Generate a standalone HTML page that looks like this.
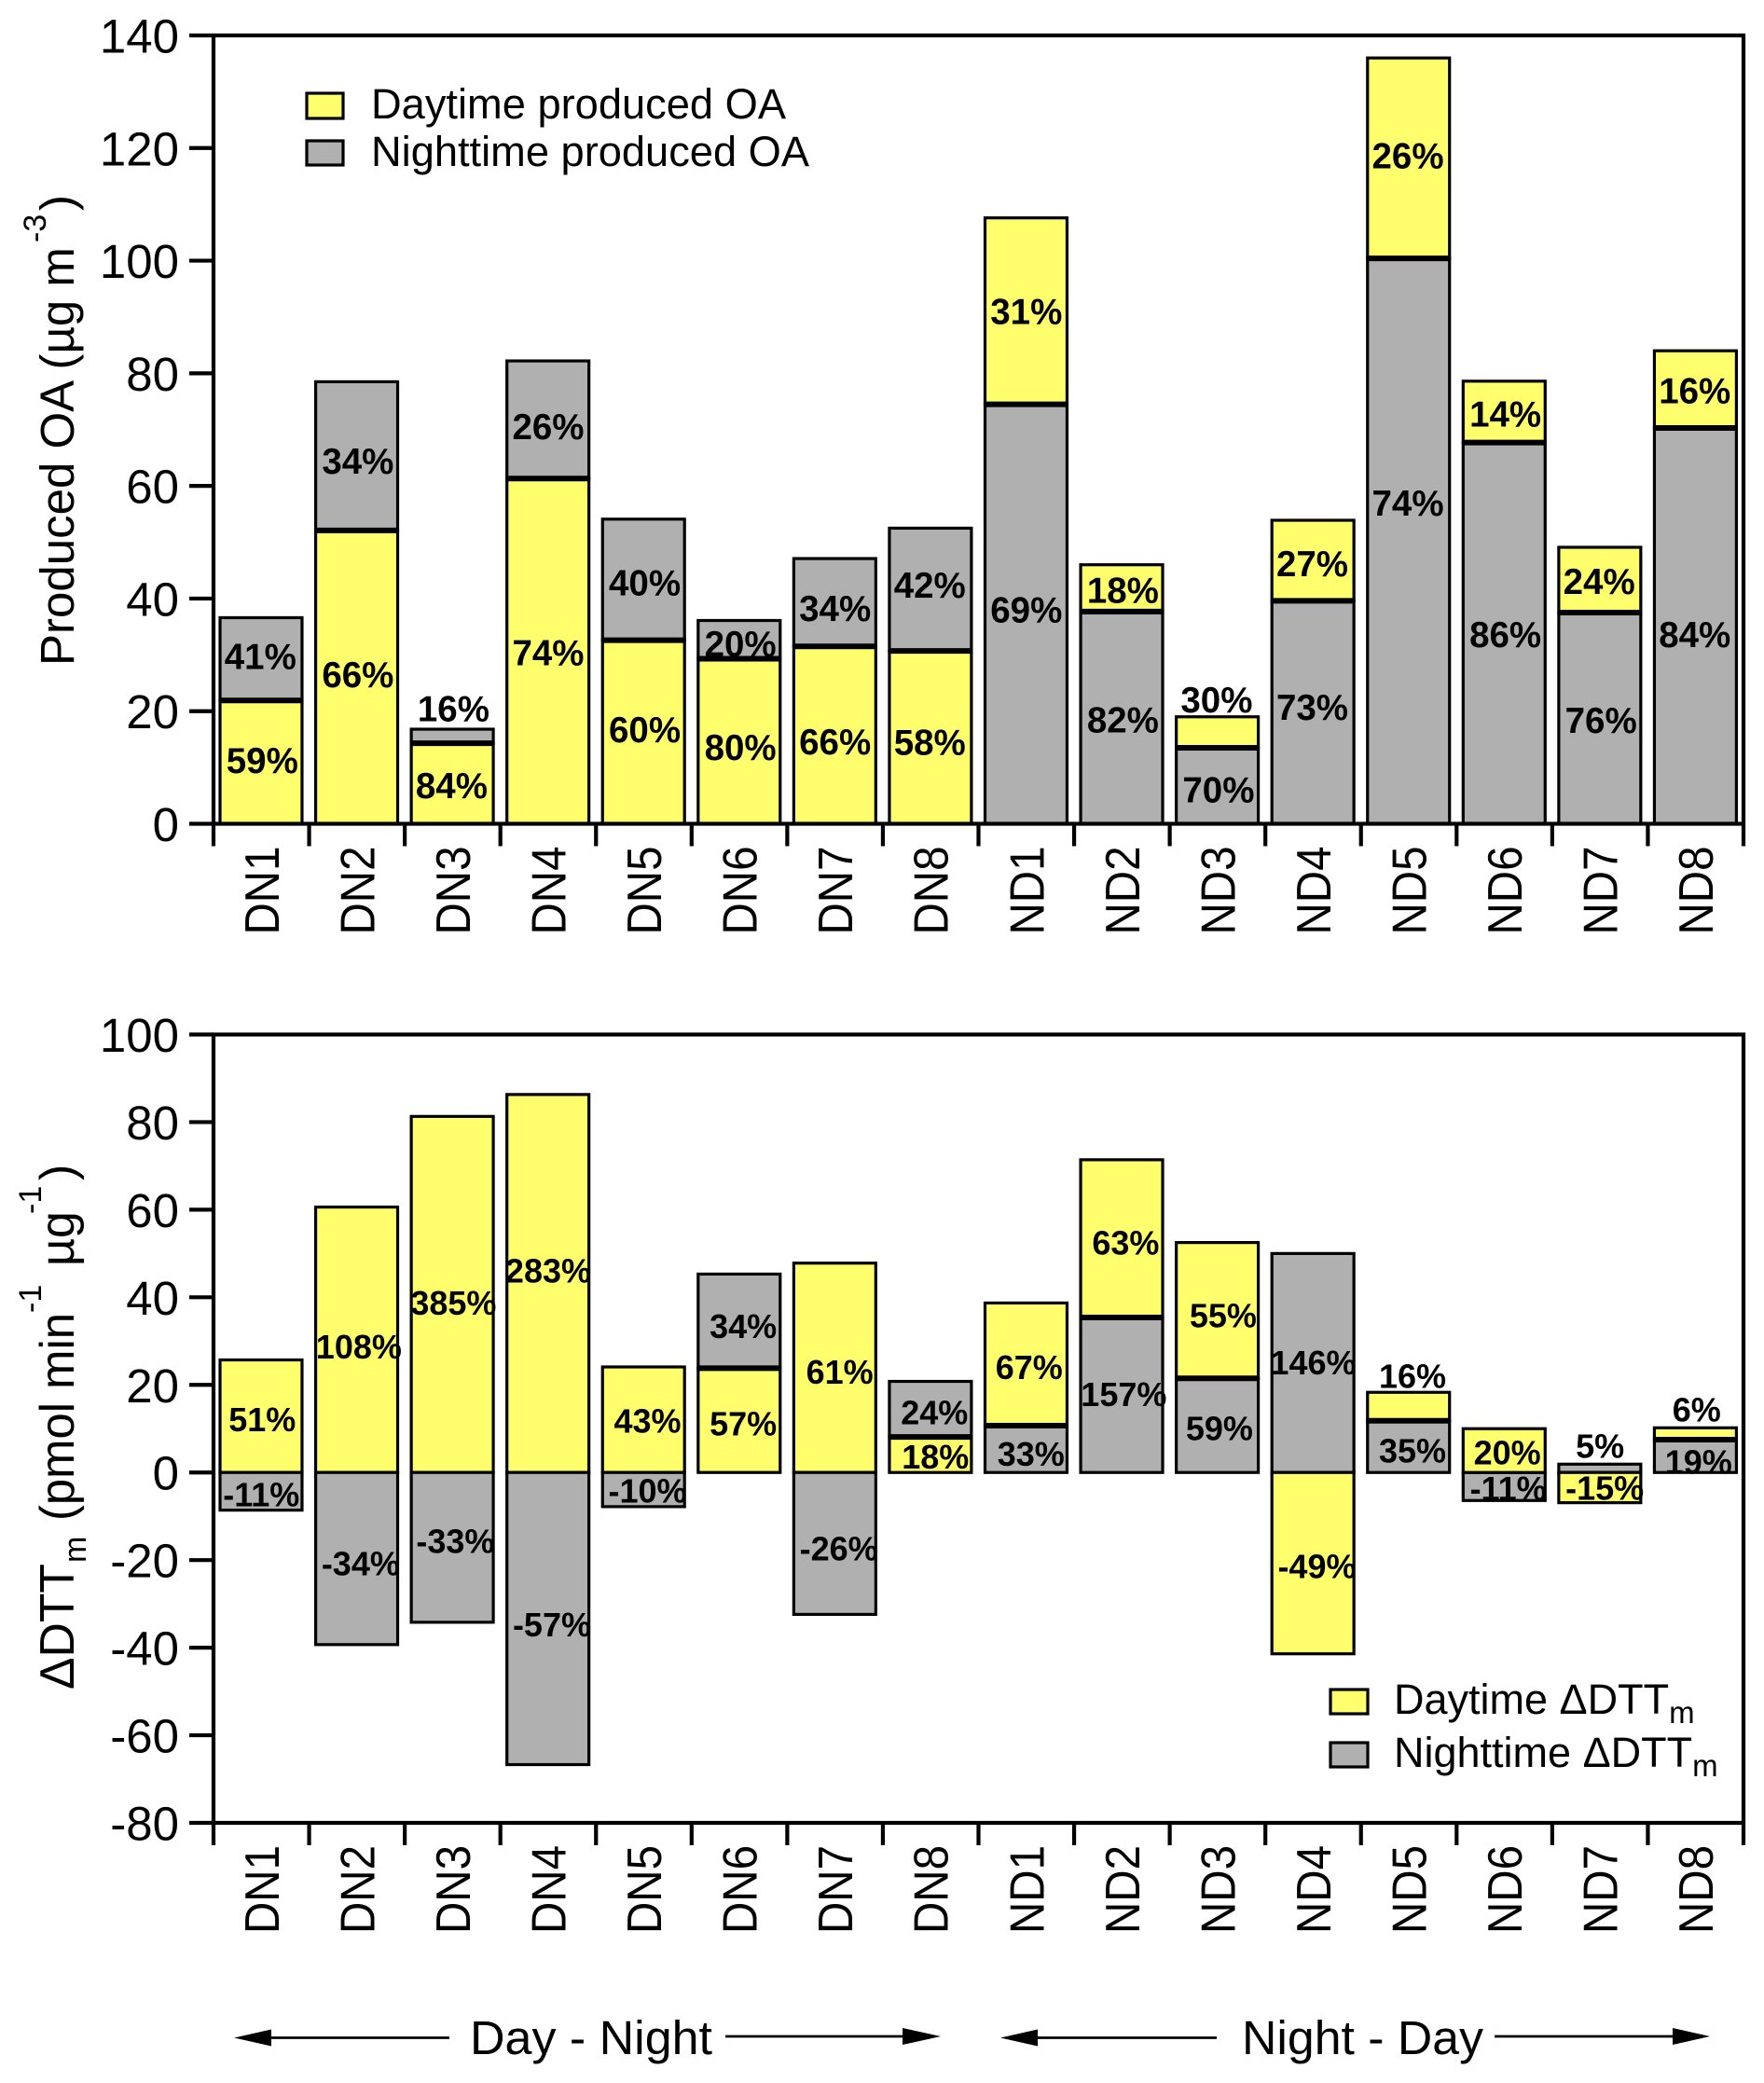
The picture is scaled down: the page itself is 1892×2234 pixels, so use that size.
<!DOCTYPE html>
<html lang="en">
<head>
<meta charset="utf-8">
<title>Produced OA and change in DTT activity</title>
<style>
html,body{margin:0;padding:0;background:#fff;}
svg{display:block;}
text{font-family:"Liberation Sans",Arial,sans-serif;fill:#000;}
</style>
</head>
<body>
<svg id="figure" xmlns="http://www.w3.org/2000/svg" width="1892" height="2234" viewBox="0 0 1892 2234">
  <rect x="0" y="0" width="1892" height="2234" fill="#fff"/>

  <g id="chart-top"></g>
  <g id="chart-bottom"></g>

  <!-- top y-axis title -->
  <g>
    <text transform="translate(79 714) rotate(-90)" font-size="51">Produced OA (µg m</text>
    <text transform="translate(49 260) rotate(-90)" font-size="34">-3</text>
    <text transform="translate(79 226) rotate(-90)" font-size="51">)</text>
  </g>

  <!-- bottom y-axis title -->
  <g>
    <text transform="translate(79 1812) rotate(-90)" font-size="52" textLength="135" lengthAdjust="spacingAndGlyphs">ΔDTT</text>
    <text transform="translate(92 1676) rotate(-90)" font-size="34">m</text>
    <text transform="translate(79 1631) rotate(-90)" font-size="52" textLength="223" lengthAdjust="spacingAndGlyphs">(pmol min</text>
    <text transform="translate(44 1408) rotate(-90)" font-size="34">-1</text>
    <text transform="translate(79 1358) rotate(-90)" font-size="52">µg</text>
    <text transform="translate(44 1302) rotate(-90)" font-size="34">-1</text>
    <text transform="translate(79 1266) rotate(-90)" font-size="52">)</text>
  </g>

  <!-- top legend -->
  <g>
    <rect x="329" y="100" width="39" height="27" fill="#ffff6e" stroke="#000" stroke-width="3.2"/>
    <text x="398" y="127" font-size="45" textLength="445" lengthAdjust="spacingAndGlyphs">Daytime produced OA</text>
    <rect x="329" y="151" width="39" height="26" fill="#b0b0b0" stroke="#000" stroke-width="3.2"/>
    <text x="398" y="178" font-size="45" textLength="470" lengthAdjust="spacingAndGlyphs">Nighttime produced OA</text>
  </g>

  <!-- bottom legend -->
  <g>
    <rect x="1427" y="1812" width="40" height="26" fill="#ffff6e" stroke="#000" stroke-width="3.2"/>
    <text x="1495" y="1838" font-size="45">Daytime ΔDTT<tspan font-size="33" dy="10">m</tspan></text>
    <rect x="1427" y="1869" width="40" height="26" fill="#b0b0b0" stroke="#000" stroke-width="3.2"/>
    <text x="1495" y="1895" font-size="45">Nighttime ΔDTT<tspan font-size="33" dy="10">m</tspan></text>
  </g>

  <!-- Day - Night annotation -->
  <g>
    <line x1="285" y1="2185.5" x2="482" y2="2185.5" stroke="#000" stroke-width="2.8"/>
    <polygon points="251,2185.5 291,2176.5 291,2194.5" fill="#000"/>
    <text x="504" y="2203" font-size="51" textLength="260" lengthAdjust="spacingAndGlyphs">Day - Night</text>
    <line x1="778" y1="2184" x2="975" y2="2184" stroke="#000" stroke-width="2.8"/>
    <polygon points="1009,2184 968,2175 968,2193" fill="#000"/>
  </g>

  <!-- Night - Day annotation -->
  <g>
    <line x1="1105" y1="2185.5" x2="1305" y2="2185.5" stroke="#000" stroke-width="2.8"/>
    <polygon points="1073,2185.5 1113,2176.5 1113,2194.5" fill="#000"/>
    <text x="1332" y="2203" font-size="51" textLength="259" lengthAdjust="spacingAndGlyphs">Night - Day</text>
    <line x1="1603" y1="2184" x2="1800" y2="2184" stroke="#000" stroke-width="2.8"/>
    <polygon points="1834,2184 1794,2175 1794,2193" fill="#000"/>
  </g>
</svg>

<script>
// ---- data ----
const categories = ['DN1','DN2','DN3','DN4','DN5','DN6','DN7','DN8','ND1','ND2','ND3','ND4','ND5','ND6','ND7','ND8'];

const oaTicks = [0,20,40,60,80,100,120,140];
const oaDay   = [21.9,52.1,14.3,61.3,32.6,29.3,31.5,30.7,33.1,8.3,5.5,14.3,35.6,10.9,11.6,13.7];
const oaNight = [14.7,26.4,2.5,20.9,21.5,6.8,15.6,21.8,74.5,37.7,13.5,39.6,100.4,67.7,37.5,70.3];
const oaDayLabels   = ['59%','66%','84%','74%','60%','80%','66%','58%','31%','18%','30%','27%','26%','14%','24%','16%'];
const oaNightLabels = ['41%','34%','16%','26%','40%','20%','34%','42%','69%','82%','70%','73%','74%','86%','76%','84%'];

const dttTicks = [-80,-60,-40,-20,0,20,40,60,80,100];
const dttDay   = [25.7,60.6,81.3,86.3,24.1,23.8,47.8,8.1,28.0,36.0,31.0,-41.4,6.5,10.0,-6.9,2.7];
const dttNight = [-8.6,-39.3,-34.2,-66.7,-7.8,21.5,-32.4,12.7,10.7,35.4,21.5,50.0,11.8,-6.4,1.9,7.5];
const dttDayLabels   = ['51%','108%','385%','283%','43%','57%','61%','18%','67%','63%','55%','-49%','16%','20%','-15%','6%'];
const dttNightLabels = ['-11%','-34%','-33%','-57%','-10%','34%','-26%','24%','33%','157%','59%','146%','35%','-11%','5%','19%'];

// ---- hand placement of individual printed labels, relative to their segment centre ----
const oaLabelNudge = {
  'day-DN1':[1,-2],'night-DN1':[-1,-3],'day-DN2':[1,-3],'night-DN2':[1,5],'day-DN3':[-1,2],'night-DN3':[1,-30],
  'day-DN4':[0,1],'night-DN4':[0,7],'day-DN5':[1,-3],'night-DN5':[1,3],'day-DN6':[1,6],'night-DN6':[1,4],
  'day-DN7':[0,7],'night-DN7':[0,6],'day-DN8':[-1,5],'night-DN8':[-1,-5],'day-ND1':[0,0],'night-ND1':[0,-5],
  'day-ND2':[1,2],'night-ND2':[1,2],'day-ND3':[-1,-35],'night-ND3':[1,4],'day-ND4':[-1,3],'night-ND4':[-1,-6],
  'day-ND5':[-1,-3],'night-ND5':[-1,-41],'day-ND6':[1,2],'night-ND6':[1,1],'day-ND7':[-1,1],'night-ND7':[1,2],
  'day-ND8':[-1,1],'night-ND8':[-1,9]
};
const dttLabelNudge = {
  'day-DN1':[1,3],'night-DN1':[0,3],'day-DN2':[2,7],'night-DN2':[4,5],'day-DN3':[1,9],'night-DN3':[3,-7],
  'day-DN4':[0,-14],'night-DN4':[4,6],'day-DN5':[4,1],'night-DN5':[4,1],'day-DN6':[4,3],'night-DN6':[4,5],
  'day-DN7':[5,4],'night-DN7':[4,5],'day-DN8':[5,2],'night-DN8':[4,3],'day-ND1':[3,3],'night-ND1':[5,5],
  'day-ND2':[4,4],'night-ND2':[2,-1],'day-ND3':[6,5],'night-ND3':[2,3],'day-ND4':[4,3],'night-ND4':[0,-1],
  'day-ND5':[4,-33],'night-ND5':[4,4],'day-ND6':[3,2],'night-ND6':[4,2],'day-ND7':[5,0],'night-ND7':[0,-24],
  'day-ND8':[1,-26],'night-ND8':[3,6]
};

// ---- drawing ----
const SVG_NS = 'http://www.w3.org/2000/svg';
const COLORS = { day:'#ffff6e', night:'#b0b0b0' };
const plotLeft = 229, plotRight = 1870;

function el(tag, attrs, parent, text) {
  const node = document.createElementNS(SVG_NS, tag);
  for (const key in attrs) node.setAttribute(key, attrs[key]);
  if (text !== undefined) node.textContent = text;
  parent.appendChild(node);
  return node;
}

function xBand(i) {
  return plotLeft + i * (plotRight - plotLeft) / categories.length;
}

function drawChart(rootId, prefix, cfg) {
  const root = document.getElementById(rootId);
  const span = cfg.yMax - cfg.yMin;
  const yScale = v => cfg.bottom - (v - cfg.yMin) * (cfg.bottom - cfg.top) / span;
  const bandW = (plotRight - plotLeft) / categories.length;

  categories.forEach((cat, i) => {
    const order = cat.startsWith('DN') ? ['day','night'] : ['night','day'];
    const values = { day: cfg.day[i], night: cfg.night[i] };
    const labels = { day: cfg.dayLabels[i], night: cfg.nightLabels[i] };
    let posBase = 0, negBase = 0;
    const x = xBand(i) + 7, w = bandW - 14.6;
    const cx = xBand(i) + bandW / 2;

    order.forEach(series => {
      const v = values[series];
      const base = v >= 0 ? posBase : negBase;
      const end = base + v;
      const yA = yScale(Math.max(base, end)), yB = yScale(Math.min(base, end));

      const bar = el('rect', { x:x, y:yA, width:w, height:yB - yA, fill:COLORS[series], stroke:'#000', 'stroke-width':3.2 }, root);
      
      

      if (base !== 0) {
        const divider = el('line', { x1:x, x2:x + w, y1:yScale(base), y2:yScale(base), stroke:'#000', 'stroke-width':6 }, root);
        
        
      }

      if (v >= 0) posBase = end; else negBase = end;

      const nudge = cfg.nudge[series + '-' + cat] || [0, 0];
      const label = el('text', {
        x: cx + nudge[0],
        y: (yA + yB) / 2 + nudge[1] + cfg.labelSize * 0.36,
        'font-size': cfg.labelSize,
        'font-weight': 'bold',
        'text-anchor': 'middle'
      }, root, labels[series]);
      
      
    });
  });

  // frame
  const frame = el('rect', { x:plotLeft, y:cfg.top, width:plotRight - plotLeft, height:cfg.bottom - cfg.top, fill:'none', stroke:'#000', 'stroke-width':4.2 }, root);
  
  

  // y axis
  cfg.ticks.forEach(t => {
    const y = yScale(t);
    const tick = el('line', { x1:203, x2:plotLeft, y1:y, y2:y, stroke:'#000', 'stroke-width':4.2 }, root);
    
    
    const label = el('text', { x:192, y:y + 18.5, 'font-size':51, 'text-anchor':'end' }, root, String(t));
    
    
  });

  // x axis
  for (let i = 0; i <= categories.length; i++) {
    const x = xBand(i);
    const tick = el('line', { x1:x, x2:x, y1:cfg.bottom, y2:cfg.bottom + 24, stroke:'#000', 'stroke-width':4.2 }, root);
    
    
  }
  categories.forEach((cat, i) => {
    const cx = xBand(i) + bandW / 2;
    const yEnd = cfg.bottom + 24;
    const label = el('text', {
      transform: 'translate(' + (cx + 18.5) + ' ' + yEnd + ') rotate(-90)',
      'font-size': 52,
      'text-anchor': 'end',
      textLength: 95,
      lengthAdjust: 'spacingAndGlyphs'
    }, root, cat);
    
    
  });
}

drawChart('chart-top', 'oa', {
  top: 38, bottom: 883.5, yMin: 0, yMax: 140,
  ticks: oaTicks, day: oaDay, night: oaNight,
  dayLabels: oaDayLabels, nightLabels: oaNightLabels,
  nudge: oaLabelNudge, labelSize: 38.5
});

drawChart('chart-bottom', 'dtt', {
  top: 1109.5, bottom: 1955, yMin: -80, yMax: 100,
  ticks: dttTicks, day: dttDay, night: dttNight,
  dayLabels: dttDayLabels, nightLabels: dttNightLabels,
  nudge: dttLabelNudge, labelSize: 36
});
</script>
</body>
</html>
